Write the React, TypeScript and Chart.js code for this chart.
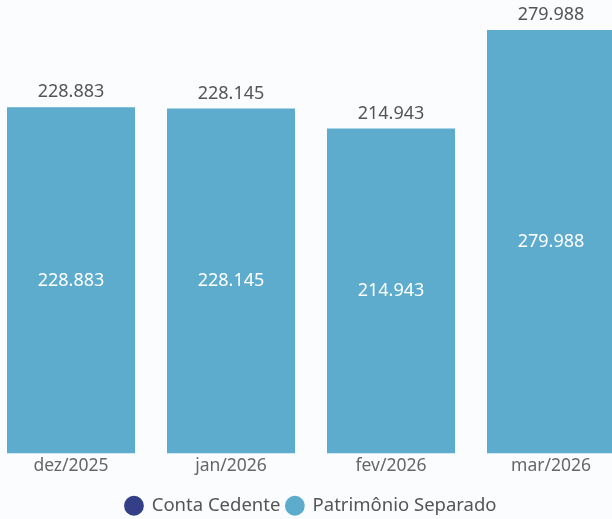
import React, { useEffect, useRef } from "react";
import { Chart, registerables } from "chart.js";

Chart.register(...registerables);

const categories = ["dez/2025", "jan/2026", "fev/2026", "mar/2026"];
const contaCedente = [0, 0, 0, 0];
const patrimonioSeparado = [228.883, 228.145, 214.943, 279.988];
const seriesNames = ["Conta Cedente", "Patrimônio Separado"];

const FONT = "'Noto Sans', 'Open Sans', sans-serif";
const fmt = (v: number) => v.toFixed(3);

const labelPlugin = {
  id: "valueLabels",
  afterDatasetsDraw(chart: any) {
    const ctx = chart.ctx;
    const meta = chart.getDatasetMeta(1);
    ctx.save();
    ctx.font = `18px ${FONT}`;
    ctx.textAlign = "center";
    meta.data.forEach((bar: any, i: number) => {
      const v = patrimonioSeparado[i];
      const total = v + contaCedente[i];
      ctx.fillStyle = "#ffffff";
      ctx.textBaseline = "middle";
      ctx.fillText(fmt(v), bar.x, (bar.y + bar.base) / 2);
      ctx.fillStyle = "#555555";
      ctx.textBaseline = "middle";
      const top = chart.scales.y.getPixelForValue(total);
      ctx.fillText(fmt(total), bar.x, top - 15);
    });
    ctx.restore();
  },
};

export default function App() {
  const ref = useRef<HTMLCanvasElement>(null);
  useEffect(() => {
    if (!ref.current) return;
    const chart = new Chart(ref.current, {
      type: "bar",
      data: {
        labels: categories,
        datasets: [
          {
            label: seriesNames[0],
            data: contaCedente,
            backgroundColor: "#333f86",
            categoryPercentage: 0.8,
            barPercentage: 1,
          },
          {
            label: seriesNames[1],
            data: patrimonioSeparado,
            backgroundColor: "#5dabcd",
            categoryPercentage: 0.8,
            barPercentage: 1,
          },
        ],
      },
      options: {
        animation: false,
        responsive: false,
        maintainAspectRatio: false,
        layout: { padding: { top: 30, bottom: 0, left: 0, right: 0 } },
        plugins: {
          tooltip: { enabled: false },
          legend: {
            position: "bottom",
            labels: {
              usePointStyle: true,
              pointStyle: "circle",
              boxWidth: 17,
              boxHeight: 14,
              padding: 6,
              color: "#555555",
              font: { family: FONT, size: 18.5 },
            },
          },
        },
        scales: {
          x: {
            stacked: true,
            grid: { display: false, drawTicks: false },
            border: { display: false },
            ticks: {
              color: "#666666",
              padding: 2,
              font: { family: FONT, size: 17.5 },
            },
            afterFit(scale: any) {
              scale.height += 12;
            },
          },
          y: {
            stacked: true,
            display: false,
            min: 0,
            max: Math.max(...patrimonioSeparado.map((v, i) => v + contaCedente[i])),
          },
        },
      },
      plugins: [labelPlugin],
    });
    return () => chart.destroy();
  }, []);

  return (
    <div
      style={{
        position: "fixed",
        left: 0,
        top: 0,
        width: 612,
        height: 519,
        overflow: "hidden",
        background: "#fafcfe",
      }}
    >
      <div style={{ position: "absolute", left: -9, top: 0, width: 640, height: 525 }}>
        <canvas ref={ref} width={640} height={525} style={{ display: "block" }} />
      </div>
    </div>
  );
}
